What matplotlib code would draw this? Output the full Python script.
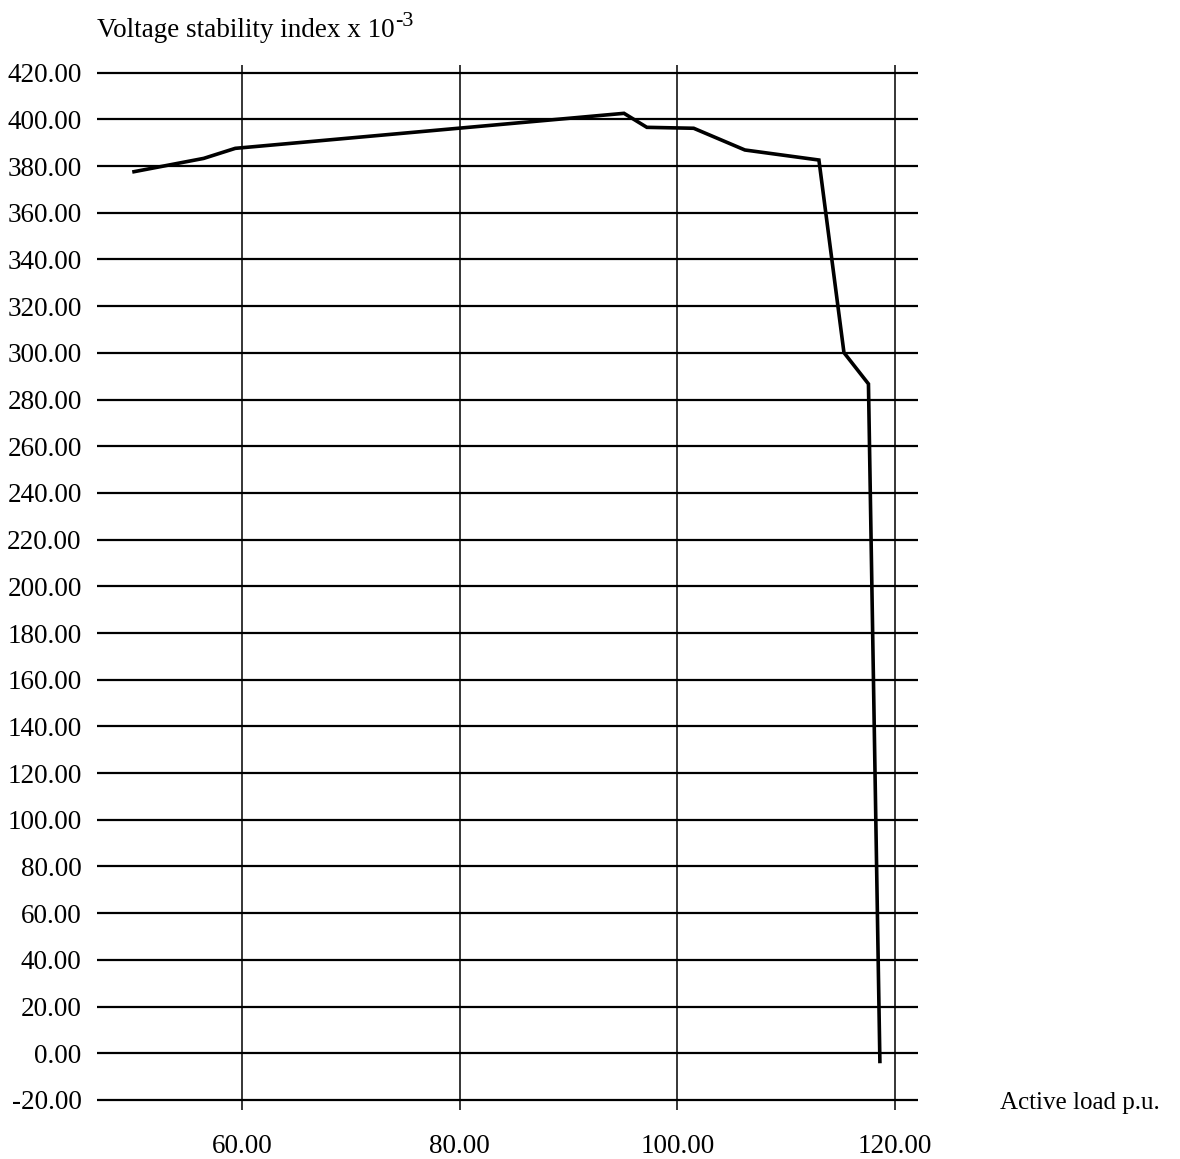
import matplotlib
matplotlib.use("Agg")
import matplotlib.pyplot as plt

# Active load (p.u.) and voltage stability index (x 10^-3)
active_load = [50.1, 56.5, 59.4, 95.1, 97.2, 101.5, 106.2, 113.0, 115.3, 117.55, 118.6]
stability_index = [377.6, 383.3, 387.6, 402.6, 396.6, 396.2, 386.9, 382.6, 300.1, 286.7, -3.5]

x_ticks = [60, 80, 100, 120]
y_ticks = list(range(-20, 421, 20))

plt.rcParams["font.family"] = ["Liberation Serif", "DejaVu Serif"]

fig = plt.figure(figsize=(11.8, 11.59), dpi=100)
ax = fig.add_axes([97 / 1180, 1 - 1110 / 1159, (918 - 97) / 1180, (1110 - 65) / 1159])

ax.set_xlim(46.7, 122.1)
ax.set_ylim(-24.3, 423.3)

for y in y_ticks:
    ax.axhline(y, color="black", lw=1.6, zorder=1)
for x in x_ticks:
    ax.axvline(x, color="black", lw=1.1, zorder=1)

ax.plot(active_load, stability_index, color="black", lw=2.6,
        solid_joinstyle="miter", zorder=3)

for s in ax.spines.values():
    s.set_visible(False)

ax.set_xticks(x_ticks)
ax.set_xticklabels([f"{v:.2f}" for v in x_ticks])
ax.set_yticks(y_ticks)
ax.set_yticklabels([f"{v:.2f}" for v in y_ticks])
ax.tick_params(axis="both", length=0, labelsize=19.5)
ax.tick_params(axis="y", pad=11)
ax.tick_params(axis="x", pad=17)

title = fig.text(97 / 1180, 1 - 37 / 1159, "Voltage stability index x 10",
                 fontsize=19.5, ha="left", va="baseline")
fig.canvas.draw()
bb = title.get_window_extent()
fig.text(bb.x1 / 1180 + 1 / 1180, 1 - 26 / 1159, "-3",
         fontsize=16, ha="left", va="baseline")
fig.text(1000 / 1180, 1 - 1103 / 1159, "Active load p.u.",
         fontsize=18, ha="left", va="center")

fig.savefig("out.png", dpi=100, facecolor="white")
